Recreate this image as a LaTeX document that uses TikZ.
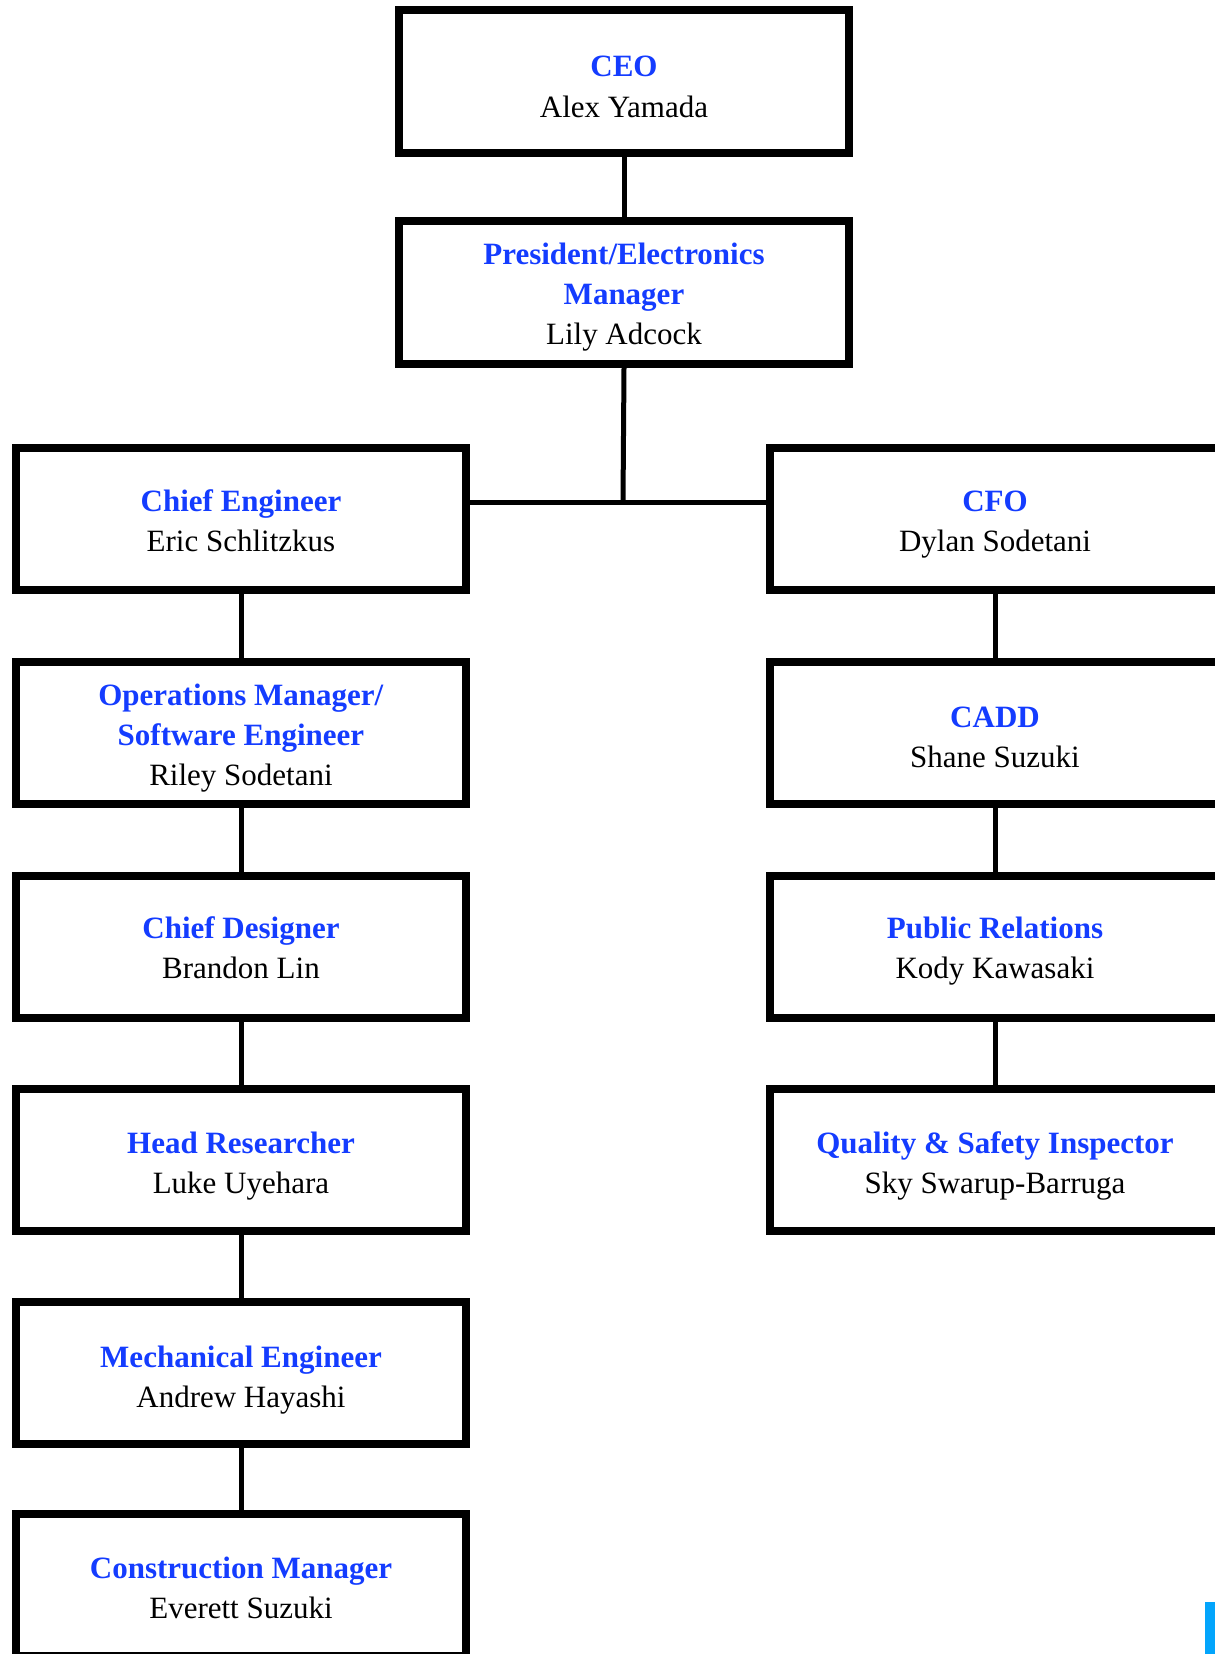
\documentclass[tikz,border=0pt]{standalone}
\usepackage{fontspec}
\setmainfont{Liberation Serif}
\definecolor{tblue}{RGB}{20,60,255}
\definecolor{barblue}{RGB}{3,165,252}
\newcommand{\stt}{\rule[-7pt]{0pt}{38.5pt}}
\newcommand{\ttl}[2][31.5pt]{\rule{0pt}{#1}\textcolor{tblue}{\textbf{#2}}}
\newcommand{\nm}[1]{\stt#1}
\begin{document}
\begin{tikzpicture}[x=1pt,y=-1pt,
  card/.style={draw=black, line width=8pt, fill=white, rectangle, inner sep=0pt,
    minimum width=450pt, minimum height=142pt, align=center,
    font=\fontsize{31}{40}\selectfont},
  conn/.style={draw=black, line width=5pt}]
\useasboundingbox (0,0) rectangle (1215,1654);
% top
\node[card] (ceo) at (624,81.5) {\ttl[38pt]{CEO}\\\nm{Alex Yamada}};
\node[card, minimum height=143pt] (pres) at (624,292.5) {\ttl{President/Electronics}\\\ttl{Manager}\\\nm{Lily Adcock}};
% left column
\node[card] (chief) at (241,519) {\ttl{Chief Engineer}\\\nm{Eric Schlitzkus}};
\node[card] (ops) at (241,733) {\ttl{Operations Manager/}\\\ttl{Software Engineer}\\\nm{Riley Sodetani}};
\node[card] (des) at (241,946.5) {\ttl{Chief Designer}\\\nm{Brandon Lin}};
\node[card] (res) at (241,1159.5) {\ttl[35.5pt]{Head Researcher}\\\nm{Luke Uyehara}};
\node[card] (mech) at (241,1372.5) {\ttl[37.5pt]{Mechanical Engineer}\\\nm{Andrew Hayashi}};
\node[card] (cons) at (241,1585) {\ttl[33pt]{Construction Manager}\\\nm{Everett Suzuki}};
% right column
\node[card] (cfo) at (995,519) {\ttl{CFO}\\\nm{Dylan Sodetani}};
\node[card] (cadd) at (995,733) {\ttl[36.5pt]{CADD}\\\nm{Shane Suzuki}};
\node[card] (pr) at (995,946.5) {\ttl{Public Relations}\\\nm{Kody Kawasaki}};
\node[card] (qsi) at (995,1159.5) {\ttl[35.5pt]{Quality \& Safety Inspector}\\\nm{Sky Swarup-Barruga}};
% connectors
\coordinate (J) at (623,502);
\draw[conn] (ceo.south) -- (pres.north);
\draw[conn] (pres.south) -- (J);
\draw[conn] (chief.east |- J) -- (cfo.west |- J);
\draw[conn] (chief.south) -- (ops.north);
\draw[conn] (ops.south) -- (des.north);
\draw[conn] (des.south) -- (res.north);
\draw[conn] (res.south) -- (mech.north);
\draw[conn] (mech.south) -- (cons.north);
\draw[conn] (cfo.south) -- (cadd.north);
\draw[conn] (cadd.south) -- (pr.north);
\draw[conn] (pr.south) -- (qsi.north);
% corner bar
\fill[barblue] (1205,1602) rectangle (1215,1654);
\end{tikzpicture}
\end{document}
